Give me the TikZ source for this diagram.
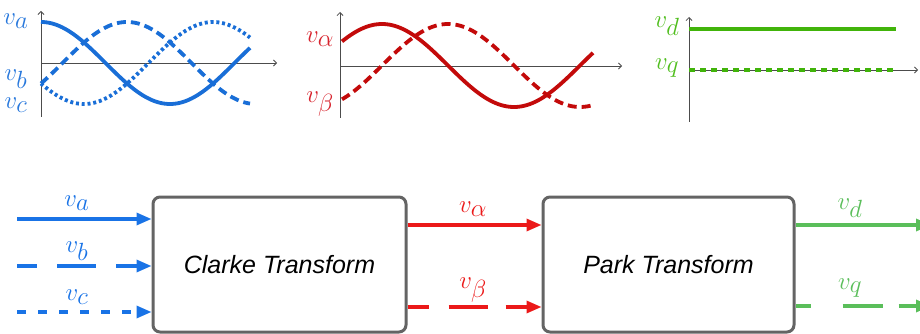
\documentclass[tikz,border=0pt]{standalone}
\usepackage{fontspec}
\setsansfont{Liberation Sans}
\usetikzlibrary{arrows.meta}
\definecolor{pblue}{RGB}{25,110,215}
\definecolor{pred}{RGB}{195,10,10}
\definecolor{pgreen}{RGB}{65,180,10}
\definecolor{lblue}{RGB}{40,120,220}
\definecolor{lred}{RGB}{215,35,45}
\definecolor{lgreen}{RGB}{80,190,30}
\definecolor{ablue}{RGB}{25,115,230}
\definecolor{ared}{RGB}{235,25,25}
\definecolor{agreen}{RGB}{90,190,90}
\definecolor{boxgray}{RGB}{100,100,100}
\newcommand\vsub[1]{$v_{\textstyle #1}$}
\begin{document}
\begin{tikzpicture}[x=1pt,y=-1pt,
  axis/.style={draw=black!70,line width=0.8pt,-{Straight Barb[length=3pt,width=6pt]}},
  curve/.style={line width=3.8pt},
  dotc/.style={line width=3.8pt,dash pattern=on 3pt off 2.8pt},
  dashc/.style={line width=3.8pt,dash pattern=on 9pt off 5pt},
  lbl/.style={inner sep=0pt,font=\fontsize{26}{30}\selectfont},
  albl/.style={inner sep=0pt,font=\fontsize{25}{28}\selectfont},
  tbox/.style={draw=boxgray,line width=3pt,rounded corners=7pt,fill=white,
    font=\sffamily\itshape\fontsize{25}{29}\selectfont},
  conn/.style={line width=3.2pt,-{Triangle[length=15pt,width=12pt]}}]
\useasboundingbox (0,0) rectangle (920,334);
% ---------- top left plot (blue)
\draw[axis] (41,117) -- (41,11);
\draw[axis] (41,63) -- (277,63);
\draw[curve,pblue] plot[domain=41:250,samples=120] (\x,{63-41*cos((\x-41)/258*360)});
\draw[dashc,pblue] plot[domain=41:250,samples=120] (\x,{63-41*cos((\x-41)/258*360-120)});
\draw[dotc,pblue] plot[domain=41:250,samples=120] (\x,{63-41*cos((\x-41)/258*360+120)});
\node[lbl,text=lblue] (la) at (16,21) {\vsub{a}};
\node[lbl,text=lblue] (lb) at (16,79) {\vsub{b}};
\node[lbl,text=lblue] (lc) at (16,105) {\vsub{c}};
% ---------- top middle plot (red)
\draw[axis] (340,118) -- (340,12);
\draw[axis] (340,66) -- (622,66);
\draw[curve,pred] plot[domain=342:593,samples=120] (\x,{65.5-41.5*sin((\x-316)/264*360)});
\draw[dashc,pred] plot[domain=342:593,samples=120] (\x,{65.5+41.5*cos((\x-316)/264*360)});
\node[lbl,text=lred] (lal) at (320,39) {\vsub{\alpha}};
\node[lbl,text=lred] (lbe) at (320,104) {\vsub{\beta}};
% ---------- top right plot (green)
\draw[axis] (689,122) -- (689,17);
\draw[axis] (689,70) -- (918,70);
\draw[line width=3.8pt,pgreen] (689,29) -- (896,29);
\draw[line width=3.8pt,pgreen,dash pattern=on 6pt off 5pt] (689,70) -- (896,70);
\node[lbl,text=lgreen] (ld) at (667,26) {\vsub{d}};
\node[lbl,text=lgreen] (lq) at (667,68) {\vsub{q}};
% ---------- blocks
\node[tbox,minimum width=253pt,minimum height=135pt] (clarke) at (279.5,264.5) {Clarke Transform};
\node[tbox,minimum width=251pt,minimum height=135pt] (park) at (668.5,264.5) {Park Transform};
% inputs
\coordinate (ia) at (17,219);
\coordinate (ib) at (17,266);
\coordinate (ic) at (17,312);
\draw[conn,ablue] (ia) -- (clarke.west |- ia);
\draw[conn,ablue,dash pattern=on 20pt off 20pt on 39pt off 20pt on 40pt] (ib) -- (clarke.west |- ib);
\draw[conn,ablue,dash pattern=on 9pt off 12pt] (ic) -- (clarke.west |- ic);
\node[albl,text=ablue] (ta) at (77,203) {\vsub{a}};
\node[albl,text=ablue] (tb) at (77,251) {\vsub{b}};
\node[albl,text=ablue] (tc) at (77,297) {\vsub{c}};
% middle
\coordinate (m1) at (406,225);
\coordinate (m2) at (406,307);
\draw[conn,ared] (clarke.east |- m1) -- (park.west |- m1);
\draw[conn,ared,dash pattern=on 21pt off 20pt on 39pt off 18pt on 40pt] (clarke.east |- m2) -- (park.west |- m2);
\node[albl,text=ared] (tal) at (473,209) {\vsub{\alpha}};
\node[albl,text=ared] (tbe) at (473,290) {\vsub{\beta}};
% outputs
\coordinate (od) at (931,225);
\coordinate (oq) at (931,306);
\draw[conn,agreen] (park.east |- od) -- (od);
\draw[conn,agreen,dash pattern=on 15pt off 32pt on 40pt off 16pt on 40pt] (park.east |- oq) -- (oq);
\node[albl,text=agreen] (td) at (850,208) {\vsub{d}};
\node[albl,text=agreen] (tq) at (850,288) {\vsub{q}};
\end{tikzpicture}
\end{document}
